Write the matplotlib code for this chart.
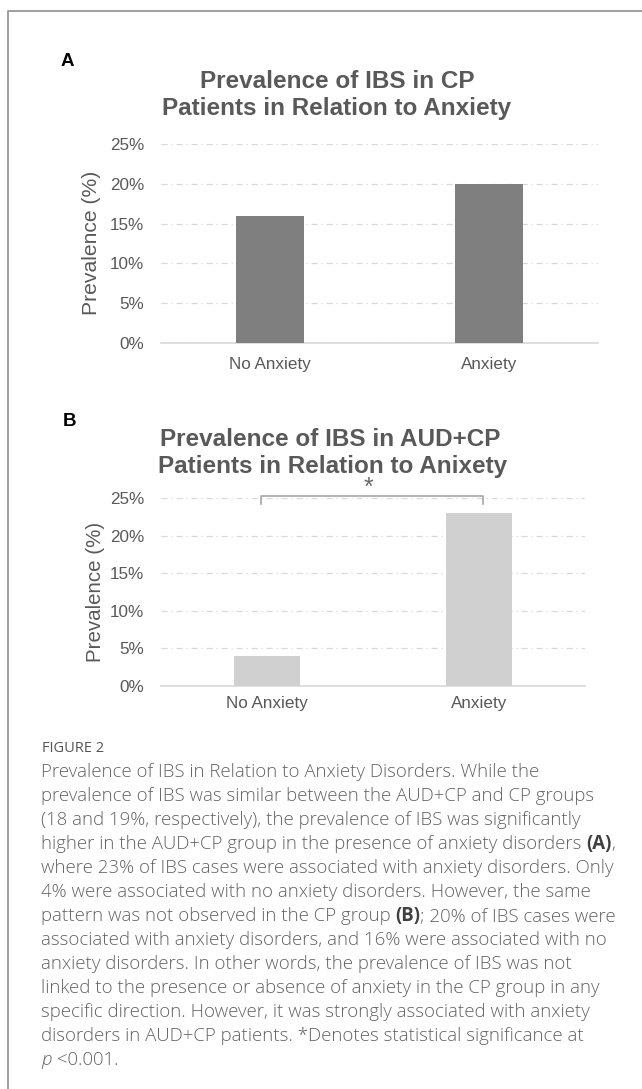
import matplotlib
matplotlib.use('Agg')
import matplotlib.pyplot as plt
from matplotlib.lines import Line2D
from matplotlib.ticker import FuncFormatter

categories = ['No Anxiety', 'Anxiety']
cp_prev = [16, 20]        # panel A, CP patients
audcp_prev = [4, 23]      # panel B, AUD+CP patients
yticks = [0, 5, 10, 15, 20, 25]

caption = [
    [("Prevalence of IBS in Relation to Anxiety Disorders. While the", 'n')],
    [("prevalence of IBS was similar between the AUD+CP and CP groups", 'n')],
    [("(18 and 19%, respectively), the prevalence of IBS was significantly", 'n')],
    [("higher in the AUD+CP group in the presence of anxiety disorders ", 'n'), ("(A)", 'b'), (",", 'n')],
    [("where 23% of IBS cases were associated with anxiety disorders. Only", 'n')],
    [("4% were associated with no anxiety disorders. However, the same", 'n')],
    [("pattern was not observed in the CP group ", 'n'), ("(B)", 'b'), ("; 20% of IBS cases were", 'n')],
    [("associated with anxiety disorders, and 16% were associated with no", 'n')],
    [("anxiety disorders. In other words, the prevalence of IBS was not", 'n')],
    [("linked to the presence or absence of anxiety in the CP group in any", 'n')],
    [("specific direction. However, it was strongly associated with anxiety", 'n')],
    [("disorders in AUD+CP patients. *Denotes statistical significance at", 'n')],
    [("p", 'i'), (" <0.001.", 'n')],
]

plt.rcParams['font.family'] = ['Liberation Sans', 'DejaVu Sans']
W, H = 642, 1089
fig = plt.figure(figsize=(W / 100, H / 100), dpi=100)
txt_col = '#595959'
grid_col = '#d9d9d9'


def fx(px):
    return px / W


def fy(px):
    return 1 - px / H


def draw_panel(rect, vals, color):
    ax = fig.add_axes(rect)
    ax.bar(range(len(categories)), vals, width=0.31, color=color, zorder=3)
    ax.set_xlim(-0.5, 1.5)
    ax.set_ylim(0, 25)
    ax.set_yticks(yticks)
    ax.yaxis.set_major_formatter(FuncFormatter(lambda v, p: '%d%%' % v))
    ax.set_xticks(range(len(categories)))
    ax.set_xticklabels(categories)
    for s in ['top', 'right', 'left']:
        ax.spines[s].set_visible(False)
    ax.spines['bottom'].set_color(grid_col)
    ax.spines['bottom'].set_linewidth(1.2)
    ax.tick_params(length=0, labelsize=12.3, colors=txt_col)
    ax.tick_params(axis='y', pad=12)
    ax.grid(axis='y', color=grid_col, linestyle=(0, (5, 3, 1, 3)), linewidth=0.9, zorder=0)
    ax.set_axisbelow(True)
    return ax


# panel A
axA = draw_panel([fx(161), fy(343), fx(598 - 161), (343 - 144) / H], cp_prev, '#7f7f7f')
axA.tick_params(axis='x', pad=10)
fig.text(fx(61), fy(61), 'A', fontsize=13.5, fontweight='bold', ha='left', va='center')
fig.text(fx(337), fy(82), 'Prevalence of IBS in CP', fontsize=17.5, fontweight='bold',
         color=txt_col, ha='center', va='center')
fig.text(fx(337), fy(108), 'Patients in Relation to Anxiety', fontsize=17.5, fontweight='bold',
         color=txt_col, ha='center', va='center')
fig.text(fx(92), fy(243), 'Prevalence (%)', fontsize=15.2, color=txt_col, rotation=90,
         ha='center', va='center')

# panel B
axB = draw_panel([fx(161), fy(686), fx(585 - 161), (686 - 498) / H], audcp_prev, '#d0d0d0')
axB.tick_params(axis='x', pad=7)
fig.text(fx(63), fy(422), 'B', fontsize=13.5, fontweight='bold', ha='left', va='center')
fig.text(fx(330), fy(440), 'Prevalence of IBS in AUD+CP', fontsize=17.5, fontweight='bold',
         color=txt_col, ha='center', va='center')
fig.text(fx(333), fy(466), 'Patients in Relation to Anixety', fontsize=17.5, fontweight='bold',
         color=txt_col, ha='center', va='center')
fig.text(fx(96), fy(592), 'Prevalence (%)', fontsize=14.8, color=txt_col, rotation=90,
         ha='center', va='center')

# significance bracket
axB.plot([-0.03, -0.03, 1.02, 1.02], [24.2, 25.3, 25.3, 24.2], color='#a6a6a6', linewidth=1.2,
         clip_on=False, zorder=4)
axB.text(0.48, 26.4, '*', fontsize=18, color='#6a6a6a', ha='center', va='center')

# frame
fig.add_artist(Line2D([fx(7.5), fx(7.5), 1.0], [0.0, fy(11), fy(11)],
                      transform=fig.transFigure, color='#a0a0a0', linewidth=1.4))

# caption
fig.text(fx(42), fy(748), 'FIGURE 2', fontsize=10.5, color='#555555',
         family=['Open Sans', 'DejaVu Sans'], ha='left', va='center')

renderer = fig.canvas.get_renderer()
styles = {'n': dict(fontweight='light', color='#636363'),
          'b': dict(fontweight='bold', color='#404040'),
          'i': dict(fontweight='light', fontstyle='italic', color='#636363')}
y0, dy = 772, 24
for i, line in enumerate(caption):
    x = fx(41)
    for piece, st in line:
        t = fig.text(x, fy(y0 + i * dy), piece, fontsize=13.4,
                     family=['Open Sans', 'DejaVu Sans'], ha='left', va='center', **styles[st])
        bb = t.get_window_extent(renderer)
        x += bb.width / W

fig.savefig('out.png', dpi=100)
